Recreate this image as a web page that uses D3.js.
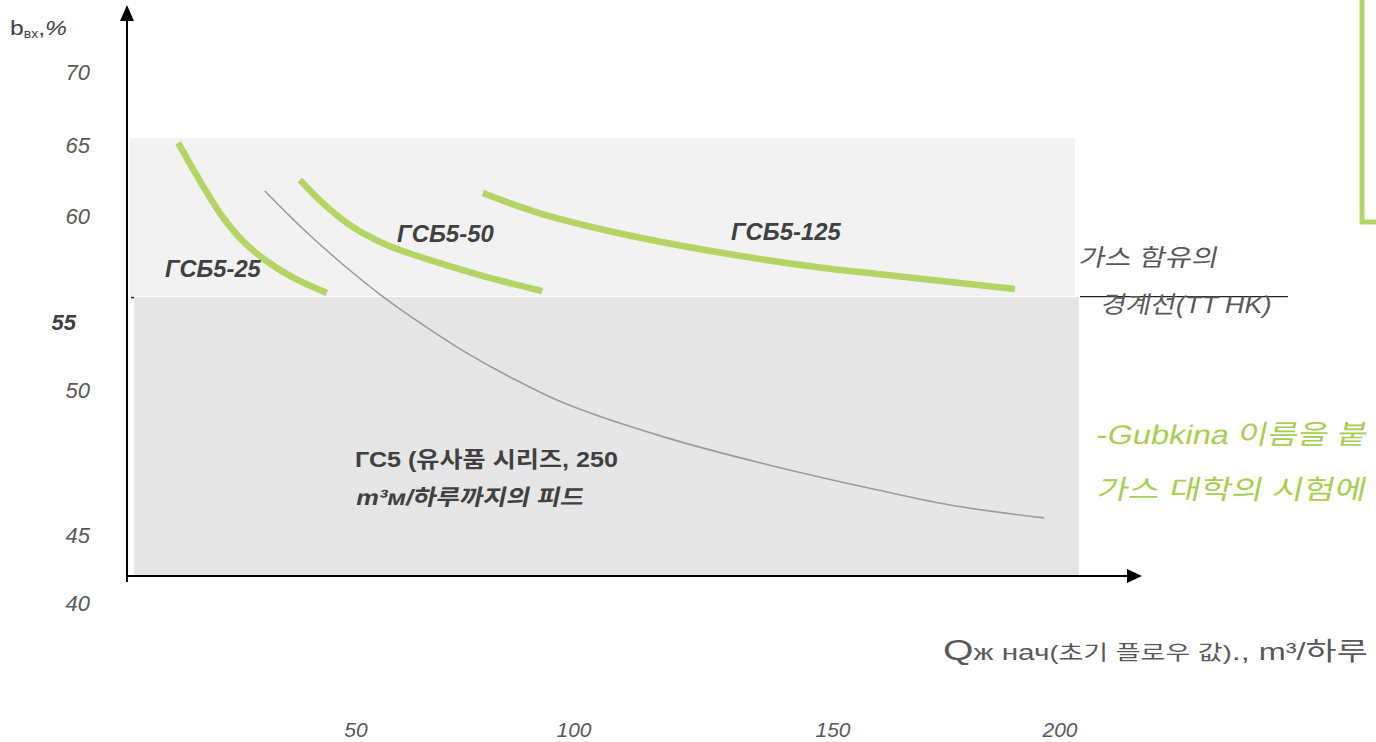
<!DOCTYPE html>
<html>
<head>
<meta charset="utf-8">
<script src="https://cdn.jsdelivr.net/npm/d3@7"></script>
<style>
html,body{margin:0;padding:0;background:#fff;}
svg{display:block;font-family:"Liberation Sans",Arial,"Noto Sans CJK KR",sans-serif;}
</style>
</head>
<body>
<svg id="chart" width="1376" height="742"></svg>
<script>
// ---- data ----
const xTickValues = [50, 100, 150, 200];
const yTickValues = [70, 65, 60, 55, 50, 45, 40];
const boundaryTick = 55;

// ГСБ5-25
const gsb25Q = [11.0, 15.8, 20.6, 25.2, 30.7, 36.8, 43.6];
const gsb25B = [65.14, 62.46, 60.00, 58.82, 57.83, 57.03, 56.37];
// ГСБ5-50
const gsb50Q = [37.7, 43.2, 49.3, 57.1, 64.7, 72.2, 80.0, 92.7];
const gsb50B = [62.54, 60.77, 59.48, 58.63, 58.07, 57.59, 57.12, 56.46];
// ГСБ5-125
const gsb125Q = [79.1, 92.0, 108.5, 127.6, 146.7, 167.8, 190.1];
const gsb125B = [61.62, 60.21, 59.20, 58.30, 57.59, 57.08, 56.56];
// ГС5 (analogue series)
const gs5Q = [30.0, 37.7, 46.5, 55.7, 64.7, 73.9, 85.3, 97.7, 118.1, 138.4, 159.9, 177.1, 196.5];
const gs5B = [61.76, 59.53, 57.83, 56.27, 54.93, 53.01, 50.96, 49.55, 48.34, 47.38, 46.55, 46.00, 45.59];

// zones (gas-content regions)
const zoneUpperQ = [0.4, 203.3];
const zoneUpperB = [56.23, 65.48];
const zoneLowerQ = [1.3, 204.2];
const zoneLowerB = [42.06, 56.18];
const boundaryB = 56.2;
const boundaryLineQ = [204.4, 250.2];

// ---- scales ----
const x = d3.scaleLinear().domain([0, 50, 100, 150, 200]).range([128, 356, 574, 833, 1060]);
const y = d3.scaleLinear().domain([40, 45, 50, 55, 60, 65, 70]).range([603, 535, 390, 322, 216, 145, 72]);

const svg = d3.select("#chart");

// helper: text stretched horizontally to a target width (optionally slanted)
function fitText(x0, y0, w, attrs, build, slant) {
  const g = svg.append("g");
  const t = g.append("text").attr("x", 0).attr("y", 0);
  Object.entries(attrs).forEach(([k, v]) => t.attr(k, v));
  build(t);
  const bw = t.node().getBBox().width || w;
  g.attr("transform", `translate(${x0},${y0})` + (slant ? " skewX(-12)" : "") + ` scale(${w / bw},1)`);
  return t;
}

// zones
svg.append("rect")
  .attr("x", x(zoneUpperQ[0])).attr("y", y(zoneUpperB[1]))
  .attr("width", x(zoneUpperQ[1]) - x(zoneUpperQ[0]))
  .attr("height", y(zoneUpperB[0]) - y(zoneUpperB[1]))
  .attr("fill", "#f2f2f2");
svg.append("rect")
  .attr("x", x(zoneLowerQ[0])).attr("y", y(zoneLowerB[1]))
  .attr("width", x(zoneLowerQ[1]) - x(zoneLowerQ[0]))
  .attr("height", y(zoneLowerB[0]) - y(zoneLowerB[1]))
  .attr("fill", "#e6e6e6");

// boundary line (right part, strikes through label)
svg.append("line")
  .attr("x1", x(boundaryLineQ[0])).attr("x2", x(boundaryLineQ[1]))
  .attr("y1", y(boundaryB)).attr("y2", y(boundaryB))
  .attr("stroke", "#222").attr("stroke-width", 1.3);
svg.append("line")
  .attr("x1", x(0) + 3).attr("x2", x(0) + 6)
  .attr("y1", y(boundaryB) + 1).attr("y2", y(boundaryB) + 1)
  .attr("stroke", "#222").attr("stroke-width", 1.5);

// curves
const line = d3.line().x(d => x(d[0])).y(d => y(d[1])).curve(d3.curveCatmullRom.alpha(0.5));
const zip = (a, b) => a.map((v, i) => [v, b[i]]);

svg.append("path").datum(zip(gs5Q, gs5B))
  .attr("d", line).attr("fill", "none").attr("stroke", "#9b9b9b").attr("stroke-width", 1.6);

[[gsb25Q, gsb25B], [gsb50Q, gsb50B], [gsb125Q, gsb125B]].forEach(([q, b]) => {
  svg.append("path").datum(zip(q, b))
    .attr("d", line).attr("fill", "none").attr("stroke", "#b2d563")
    .attr("stroke-width", 6.5).attr("stroke-linecap", "butt");
});

// axes
const ax = svg.append("g");
ax.append("line").attr("x1", 127).attr("x2", 127).attr("y1", 18).attr("y2", 582)
  .attr("stroke", "#000").attr("stroke-width", 2);
ax.append("path").attr("d", "M127,5 L134,21 L120,21 Z").attr("fill", "#000");
ax.append("line").attr("x1", 127).attr("x2", 1129).attr("y1", 576).attr("y2", 576)
  .attr("stroke", "#000").attr("stroke-width", 2);
ax.append("path").attr("d", "M1142,576 L1127,569 L1127,583 Z").attr("fill", "#000");

// y tick labels
svg.append("g").selectAll("text").data(yTickValues).join("text")
  .attr("x", d => d === boundaryTick ? 76 : 90)
  .attr("y", d => y(d))
  .attr("dy", "0.35em")
  .attr("text-anchor", "end")
  .attr("font-size", 22)
  .attr("font-style", "italic")
  .attr("font-weight", d => d === boundaryTick ? "bold" : "normal")
  .attr("fill", d => d === boundaryTick ? "#404040" : "#595959")
  .text(d => d);

// x tick labels
svg.append("g").selectAll("text").data(xTickValues).join("text")
  .attr("x", d => x(d))
  .attr("y", 737)
  .attr("text-anchor", "middle")
  .attr("font-size", 21)
  .attr("font-style", "italic")
  .attr("fill", "#595959")
  .text(d => d);

// y title
fitText(10, 35, 57, {fill: "#404040", "font-size": 21}, t => {
  t.append("tspan").text("b");
  t.append("tspan").attr("font-size", 12).attr("dy", 3).text("вх");
  t.append("tspan").attr("dy", -3).text(",");
  t.append("tspan").attr("font-style", "italic").text("%");
});

// x title
fitText(943, 660, 425, {fill: "#595959"}, t => {
  t.append("tspan").attr("font-size", 29).text("Q");
  t.append("tspan").attr("font-size", 22).text("ж нач");
  t.append("tspan").attr("font-size", 20).text("(초기 플로우 값)");
  t.append("tspan").attr("font-size", 24).text("., m³/");
  t.append("tspan").attr("font-size", 25).text("하루");
});

// curve labels
const labAttrs = {"font-size": 23, "font-weight": "bold", "font-style": "italic", fill: "#404040"};
fitText(165, 277, 97, labAttrs, t => t.text("ГСБ5-25"));
fitText(397, 242, 97, labAttrs, t => t.text("ГСБ5-50"));
fitText(731, 240, 111, labAttrs, t => t.text("ГСБ5-125"));

const gsAttrs = {"font-size": 22, "font-weight": "bold", fill: "#404040"};
fitText(355, 467, 263, gsAttrs, t => t.text("ГС5 (유사품 시리즈, 250"));
fitText(355, 505, 228, gsAttrs, t => t.text("m³м/하루까지의 피드"), true);

// boundary label
const blAttrs = {"font-size": 24, fill: "#595959"};
fitText(1078, 266, 139, blAttrs, t => t.text("가스 함유의"), true);
fitText(1100, 313, 170, blAttrs, t => t.text("경계선(TT HK)"), true);

// source note (green)
const snAttrs = {"font-size": 27, fill: "#a6cf50"};
fitText(1095, 444, 271, snAttrs, t => t.text("-Gubkina 이름을 붙"), true);
fitText(1096, 499, 269, snAttrs, t => t.text("가스 대학의 시험에"), true);

// green bracket
svg.append("path").attr("d", "M1362,0 L1362,222 L1376,222")
  .attr("fill", "none").attr("stroke", "#b2d563").attr("stroke-width", 5);
</script>
</body>
</html>
